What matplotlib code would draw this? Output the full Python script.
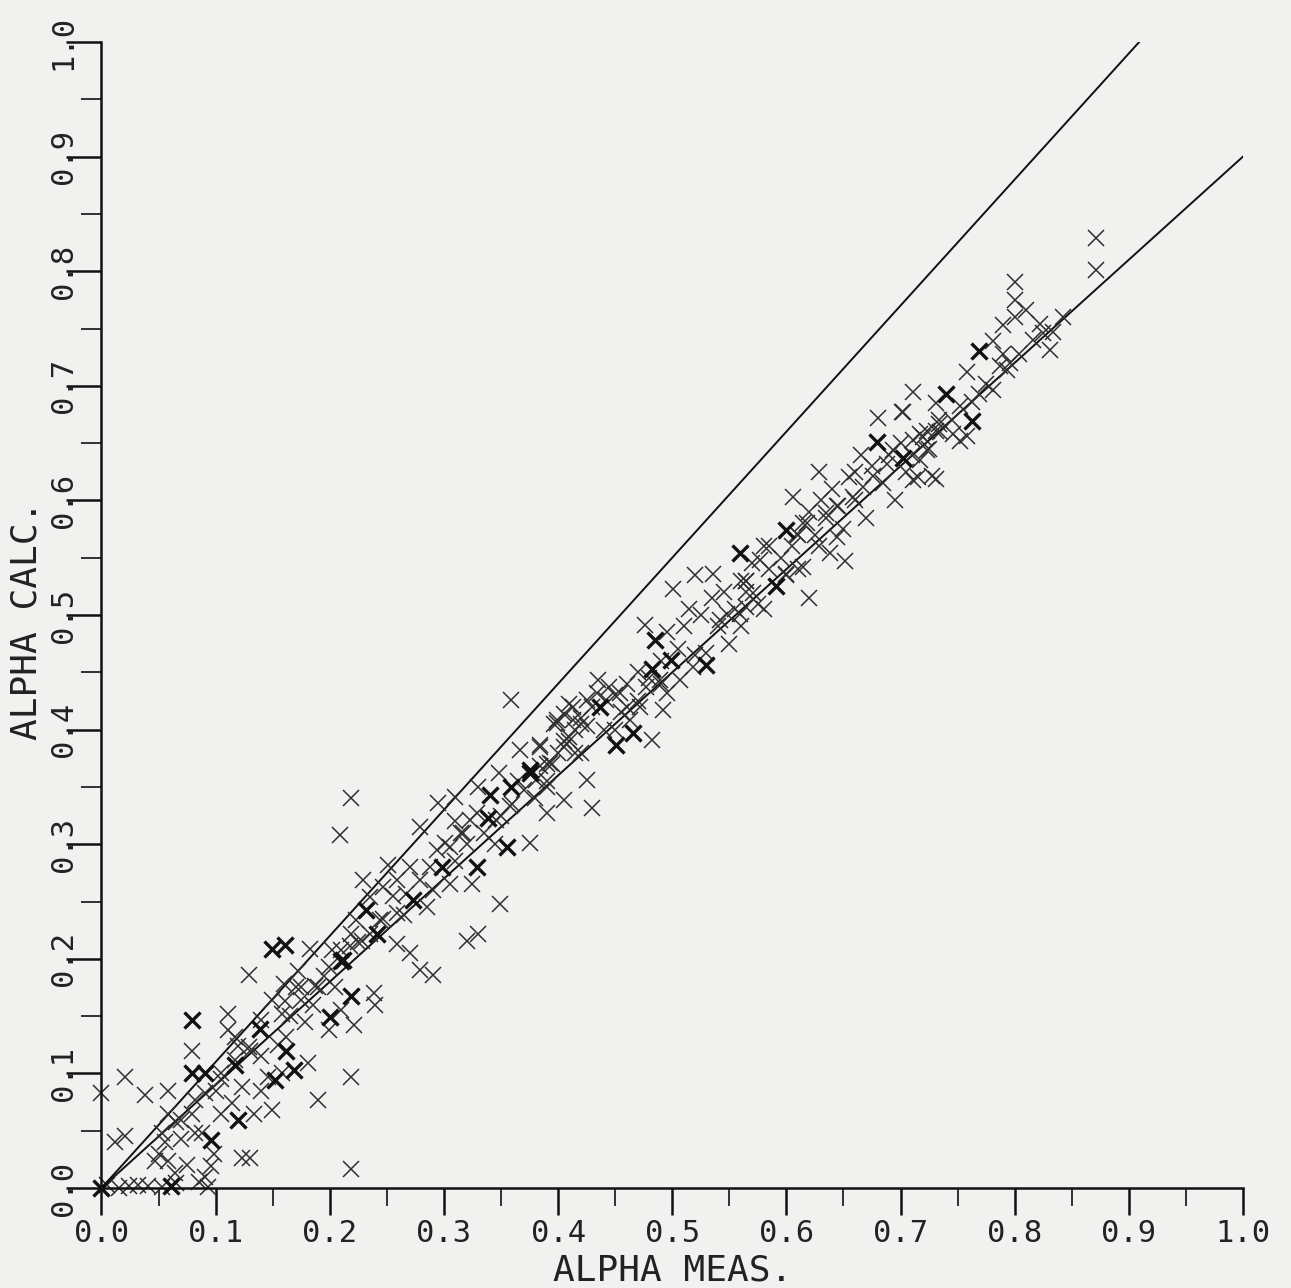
import numpy as np
import matplotlib.pyplot as plt
from matplotlib.ticker import MultipleLocator

meas = [
    # low range (0 - 0.22)
    0.005, 0.0, 0.012, 0.021, 0.021, 0.038, 0.058,
    0.015, 0.024, 0.032, 0.041, 0.053, 0.065, 0.093,
    0.050, 0.047, 0.058, 0.064, 0.056, 0.070, 0.082, 0.088, 0.091, 0.096, 0.099, 0.085, 0.075,
    0.058, 0.079, 0.082, 0.065, 0.079,
    0.105, 0.114, 0.123, 0.134, 0.149, 0.140, 0.123, 0.130,
    0.111, 0.117, 0.111, 0.129, 0.146, 0.158,
    0.149, 0.161, 0.162, 0.181, 0.172, 0.178, 0.183,
    0.190, 0.199, 0.202, 0.219, 0.221, 0.219, 0.219,
    0.130, 0.140, 0.155, 0.165, 0.185, 0.190, 0.195, 0.205, 0.210, 0.170, 0.105, 0.100,
    0.120, 0.160, 0.175,
    0.187, 0.175, 0.158, 0.140, 0.129, 0.117, 0.105, 0.091, 0.070, 0.053, 0.199, 0.210, 0.228,
    # 0.2 - 0.42
    0.359, 0.219, 0.209,
    0.225, 0.229, 0.235, 0.239, 0.240, 0.247, 0.251, 0.255, 0.259, 0.270, 0.265,
    0.279, 0.279, 0.290, 0.285, 0.279, 0.294, 0.301, 0.295, 0.305, 0.310, 0.310, 0.315,
    0.320, 0.330, 0.325, 0.329, 0.330, 0.345, 0.349, 0.348, 0.360, 0.367, 0.375,
    0.380, 0.384, 0.390, 0.395, 0.399, 0.405, 0.410, 0.410, 0.415, 0.420,
    0.270, 0.290, 0.310, 0.320, 0.335, 0.350, 0.365,
    0.223, 0.235, 0.247, 0.259, 0.267, 0.288, 0.305, 0.317, 0.323, 0.346, 0.358, 0.370,
    0.381, 0.393, 0.405, 0.413, 0.390, 0.259, 0.244, 0.218,
    # 0.37 - 0.57
    0.384, 0.390, 0.399, 0.405, 0.415, 0.420, 0.425, 0.430, 0.435, 0.440, 0.445, 0.450,
    0.455, 0.460, 0.470, 0.476, 0.480, 0.482, 0.490, 0.492, 0.495, 0.501, 0.505, 0.510,
    0.515, 0.520, 0.520, 0.525, 0.535, 0.536, 0.540, 0.545, 0.550, 0.555, 0.560, 0.565,
    0.390, 0.400, 0.420, 0.430, 0.450, 0.460, 0.470, 0.490,
    0.396, 0.405, 0.413, 0.425, 0.434, 0.442, 0.454, 0.463, 0.472, 0.477, 0.489, 0.495,
    0.507, 0.518, 0.530, 0.542, 0.548, 0.565, 0.571, 0.410, 0.425, 0.384,
    # 0.54 - 0.75
    0.560, 0.565, 0.570, 0.575, 0.580, 0.585, 0.595, 0.605, 0.606, 0.610, 0.615, 0.620,
    0.620, 0.625, 0.629, 0.630, 0.635, 0.638, 0.640, 0.645, 0.651, 0.655, 0.660, 0.665,
    0.670, 0.675, 0.680, 0.685, 0.690, 0.695, 0.700, 0.701, 0.705, 0.710, 0.711, 0.715,
    0.720, 0.725, 0.731, 0.735, 0.745,
    0.580, 0.600, 0.610, 0.650, 0.660,
    0.577, 0.585, 0.609, 0.618, 0.635, 0.644, 0.658, 0.667, 0.676, 0.688, 0.693, 0.711,
    0.723, 0.734, 0.600, 0.615, 0.629, 0.644, 0.565, 0.559,
    # 0.7 - 0.88
    0.702, 0.723, 0.746, 0.758, 0.731, 0.775, 0.781, 0.763, 0.796, 0.793, 0.790, 0.781,
    0.810, 0.800, 0.822, 0.825, 0.831, 0.834, 0.711, 0.728, 0.758, 0.790, 0.800, 0.800,
    0.842, 0.871, 0.871, 0.731, 0.752,
    0.717, 0.734, 0.752, 0.769, 0.787, 0.804, 0.816, 0.717,
]
calc = [
    0.003, 0.083, 0.040, 0.045, 0.097, 0.081, 0.085,
    0.0, 0.002, 0.003, 0.002, 0.001, 0.004, 0.001,
    0.030, 0.024, 0.024, 0.013, 0.040, 0.043, 0.048, 0.048, 0.010, 0.019, 0.030, 0.005, 0.020,
    0.065, 0.065, 0.077, 0.058, 0.120,
    0.065, 0.074, 0.088, 0.065, 0.068, 0.085, 0.026, 0.026,
    0.138, 0.132, 0.152, 0.186, 0.097, 0.100,
    0.164, 0.163, 0.132, 0.109, 0.189, 0.145, 0.209,
    0.077, 0.138, 0.208, 0.222, 0.142, 0.097, 0.017,
    0.120, 0.115, 0.125, 0.150, 0.160, 0.175, 0.185, 0.175, 0.155, 0.175, 0.095, 0.085,
    0.124, 0.178, 0.175,
    0.176, 0.164, 0.152, 0.147, 0.123, 0.112, 0.100, 0.083, 0.059, 0.048, 0.193, 0.208, 0.216,
    0.426, 0.340, 0.308,
    0.215, 0.269, 0.222, 0.170, 0.160, 0.235, 0.282, 0.255, 0.213, 0.205, 0.238,
    0.269, 0.190, 0.186, 0.245, 0.315, 0.295, 0.301, 0.336, 0.265, 0.285, 0.341, 0.310,
    0.216, 0.222, 0.265, 0.327, 0.350, 0.300, 0.248, 0.362, 0.335, 0.382, 0.301,
    0.340, 0.387, 0.355, 0.370, 0.406, 0.339, 0.390, 0.422, 0.380, 0.405,
    0.280, 0.260, 0.320, 0.300, 0.310, 0.325, 0.355,
    0.234, 0.254, 0.263, 0.269, 0.257, 0.280, 0.298, 0.310, 0.321, 0.321, 0.333, 0.347,
    0.356, 0.371, 0.385, 0.408, 0.327, 0.240, 0.234, 0.211,
    0.385, 0.370, 0.408, 0.390, 0.400, 0.410, 0.356, 0.332, 0.443, 0.400, 0.437, 0.430,
    0.415, 0.440, 0.425, 0.491, 0.445, 0.391, 0.460, 0.417, 0.485, 0.523, 0.470, 0.490,
    0.505, 0.535, 0.465, 0.500, 0.515, 0.536, 0.490, 0.520, 0.475, 0.505, 0.490, 0.530,
    0.350, 0.380, 0.380, 0.420, 0.400, 0.420, 0.450, 0.440,
    0.405, 0.414, 0.420, 0.426, 0.432, 0.426, 0.432, 0.408, 0.420, 0.437, 0.443, 0.432,
    0.443, 0.455, 0.467, 0.496, 0.501, 0.507, 0.519, 0.394, 0.403, 0.368,
    0.530, 0.520, 0.545, 0.510, 0.505, 0.540, 0.550, 0.560, 0.603, 0.540, 0.580, 0.590,
    0.515, 0.570, 0.625, 0.600, 0.585, 0.554, 0.610, 0.595, 0.547, 0.620, 0.600, 0.640,
    0.585, 0.630, 0.672, 0.615, 0.640, 0.600, 0.650, 0.677, 0.625, 0.640, 0.695, 0.620,
    0.655, 0.645, 0.619, 0.660, 0.670,
    0.560, 0.535, 0.570, 0.575, 0.625,
    0.548, 0.560, 0.571, 0.580, 0.589, 0.595, 0.603, 0.612, 0.621, 0.632, 0.644, 0.653,
    0.661, 0.667, 0.536, 0.542, 0.560, 0.568, 0.530, 0.501,
    0.677, 0.644, 0.658, 0.656, 0.661, 0.702, 0.696, 0.686, 0.720, 0.714, 0.728, 0.739,
    0.766, 0.760, 0.754, 0.746, 0.731, 0.747, 0.618, 0.621, 0.712, 0.753, 0.791, 0.775,
    0.760, 0.829, 0.801, 0.685, 0.652,
    0.658, 0.670, 0.682, 0.693, 0.717, 0.728, 0.740, 0.635,
]

# points printed darker (overstruck) on the original
meas_bold = [0.0, 0.061, 0.096, 0.079, 0.091, 0.079, 0.120, 0.117, 0.139, 0.152, 0.162, 0.169,
             0.149, 0.161, 0.200, 0.210, 0.219, 0.212, 0.232, 0.241, 0.273, 0.298, 0.329,
             0.339, 0.340, 0.355, 0.359, 0.375, 0.375, 0.437, 0.451, 0.466, 0.482, 0.485,
             0.499, 0.530, 0.559, 0.591, 0.600, 0.679, 0.740, 0.763, 0.769, 0.702]
calc_bold = [0.0, 0.002, 0.042, 0.100, 0.100, 0.147, 0.059, 0.107, 0.139, 0.094, 0.120, 0.103,
             0.209, 0.212, 0.149, 0.198, 0.168, 0.199, 0.243, 0.222, 0.251, 0.280, 0.280,
             0.323, 0.343, 0.298, 0.350, 0.365, 0.362, 0.420, 0.387, 0.397, 0.453, 0.478,
             0.461, 0.456, 0.554, 0.525, 0.574, 0.651, 0.693, 0.669, 0.730, 0.637]

# reference lines: +10 % and -10 %
upper_slope = 1.1
lower_slope = 0.9

xticks = [0.0, 0.1, 0.2, 0.3, 0.4, 0.5, 0.6, 0.7, 0.8, 0.9, 1.0]
xtick_labels = ['0.0', '0.1', '0.2', '0.3', '0.4', '0.5', '0.6', '0.7', '0.8', '0.9', '1.0']

bg = '#f1f1ef'
plt.rcParams['font.family'] = ['DejaVu Sans Mono']

fig = plt.figure(figsize=(12.91, 12.88), dpi=100, facecolor=bg)
ax = fig.add_axes([0.0786, 0.0776, 0.8842, 0.8898], facecolor=bg)

x_up = np.array([0.0, 1.0 / upper_slope])
ax.plot(x_up, upper_slope * x_up, color='#111111', lw=1.4)
x_lo = np.array([0.0, 1.0])
ax.plot(x_lo, lower_slope * x_lo, color='#111111', lw=1.4)

ax.plot(meas, calc, linestyle='none', marker='x', ms=12, mew=1.1,
        color='#2e2e2e', clip_on=False)
ax.plot(meas_bold, calc_bold, linestyle='none', marker='x', ms=12, mew=2.4,
        color='#111111', clip_on=False)

ax.set_xlim(0, 1)
ax.set_ylim(0, 1)
for s in ['top', 'right']:
    ax.spines[s].set_visible(False)
for s in ['left', 'bottom']:
    ax.spines[s].set_linewidth(1.8)
    ax.spines[s].set_color('#111111')

ax.set_xticks(xticks)
ax.set_xticklabels(xtick_labels)
ax.set_yticks(xticks)
ax.set_yticklabels(xtick_labels, rotation=90, va='center')
ax.xaxis.set_minor_locator(MultipleLocator(0.05))
ax.yaxis.set_minor_locator(MultipleLocator(0.05))

ax.tick_params(axis='x', which='major', direction='out', length=19.5, width=1.8,
               color='#111111', labelsize=22, pad=3, labelcolor='#222222')
ax.tick_params(axis='x', which='minor', direction='out', length=13, width=1.2, color='#111111')
ax.tick_params(axis='y', which='major', direction='out', length=25, width=1.8,
               color='#111111', labelsize=22, pad=-8, labelcolor='#222222')
ax.tick_params(axis='y', which='minor', direction='out', length=14.5, width=1.2, color='#111111')

ax.set_xlabel('ALPHA MEAS.', fontsize=26, color='#222222', va='top')
ax.xaxis.set_label_coords(0.5, -0.057)
ax.set_ylabel('ALPHA CALC.', fontsize=26, color='#222222', va='center')
ax.yaxis.set_label_coords(-0.066, 0.495)

fig.savefig('out.png', dpi=100, facecolor=bg)
